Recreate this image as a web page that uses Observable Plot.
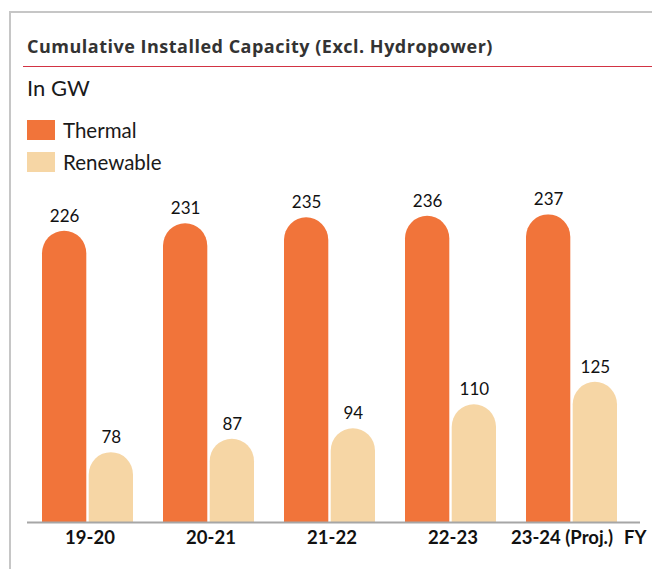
<!DOCTYPE html>
<html>
<head>
<meta charset="utf-8">
<script src="https://cdn.jsdelivr.net/npm/d3@7"></script>
<script src="https://cdn.jsdelivr.net/npm/@observablehq/plot@0.6"></script>
<style>
  html, body { margin: 0; padding: 0; background: #fff; }
  body { width: 652px; height: 569px; position: relative; overflow: hidden; font-family: Lato, "Open Sans", sans-serif; }
  .frame { position: absolute; left: 9px; top: 11px; width: 700px; height: 600px; border-top: 2px solid #c6c6c6; border-left: 2px solid #c6c6c6; }
  .title { position: absolute; left: 27px; top: 35px; line-height: 22px; font-size: 18px; letter-spacing: 0.5px; font-weight: bold; color: #333; white-space: nowrap; font-family: "Open Sans", Lato, sans-serif; }
  .redline { position: absolute; left: 23px; top: 66px; width: 640px; height: 0; border-top: 1.5px solid #d23344; }
  .unit { position: absolute; left: 27px; top: 76px; line-height: 24px; font-size: 22px; color: #1a1a1a; }
  .legend-item { position: absolute; left: 27px; height: 20px; display: flex; align-items: center; }
  .swatch { width: 28px; height: 20px; margin-right: 8px; }
  .legend-item span { font-size: 20.5px; color: #1a1a1a; line-height: 20px; }
  #chart { position: absolute; left: 0; top: 180px; }
</style>
</head>
<body>
<div class="frame"></div>
<div class="title">Cumulative Installed Capacity (Excl. Hydropower)</div>
<div class="redline"></div>
<div class="unit">In GW</div>
<div id="legend"></div>
<div id="chart"></div>
<script>
const years = ["19-20", "20-21", "21-22", "22-23", "23-24 (Proj.)"];
const thermal = [226, 231, 235, 236, 237];
const renewable = [78, 87, 94, 110, 125];
const seriesNames = ["Thermal", "Renewable"];
const seriesColors = ["#F1743A", "#F6D6A5"];
const axisLabel = "FY";

// Axis of the original chart does not start at zero
const yBase = 31.3;
const yTop = 237;

const rows = years.flatMap((yr, i) => [
  {year: yr, series: seriesNames[0], value: thermal[i]},
  {year: yr, series: seriesNames[1], value: renewable[i]}
]);
const tRows = rows.filter(d => d.series === seriesNames[0]);
const rRows = rows.filter(d => d.series === seriesNames[1]);

// legend
const legend = document.getElementById("legend");
seriesNames.forEach((name, i) => {
  const item = document.createElement("div");
  item.className = "legend-item";
  item.style.top = (120 + i * 32) + "px";
  item.innerHTML = `<div class="swatch" style="background:${seriesColors[i]}"></div><span>${name}</span>`;
  legend.appendChild(item);
});

const half = 46.7; // inset so each bar takes half of the group band
const textStyle = {fontSize: 17, fill: "#111", fontFamily: "Lato, 'Open Sans', sans-serif"};
const axisStyle = {fontSize: 18.5, fontWeight: "bold", fill: "#111", fontFamily: "Lato, 'Open Sans', sans-serif"};

const chart = Plot.plot({
  width: 652,
  height: 389,
  marginLeft: 27,
  marginRight: 12,
  marginTop: 34.3,
  marginBottom: 47,
  style: {background: "transparent", overflow: "visible"},
  x: {type: "band", domain: years, paddingInner: 0.2446, paddingOuter: 0.147, align: 0.4, axis: null},
  y: {domain: [yBase, yTop], nice: false, axis: null},
  marks: [
    Plot.barY(tRows, {x: "year", y1: yBase - 20, y2: "value", fill: seriesColors[0], insetRight: half, rx: 22.5, clip: true}),
    Plot.barY(rRows, {x: "year", y1: yBase - 20, y2: "value", fill: seriesColors[1], insetLeft: half, rx: 22.5, clip: true}),
    Plot.ruleY([yBase], {stroke: "#a6a6a6", strokeWidth: 2}),
    Plot.text(tRows, {x: "year", y: "value", text: d => String(d.value), dx: -23.35, dy: -15, ...textStyle}),
    Plot.text(rRows, {x: "year", y: "value", text: d => String(d.value), dx: 23.35, dy: -15, ...textStyle}),
    Plot.text(years.slice(0, 4), {x: d => d, frameAnchor: "bottom", dy: 21, dx: 2, ...axisStyle}),
    Plot.text(years.slice(4), {x: d => d, frameAnchor: "bottom", dy: 21, dx: -10, ...axisStyle}),
    Plot.text([axisLabel], {frameAnchor: "bottom-right", textAnchor: "end", dx: 6, dy: 21, ...axisStyle})
  ]
});
document.getElementById("chart").appendChild(chart);
</script>
</body>
</html>
